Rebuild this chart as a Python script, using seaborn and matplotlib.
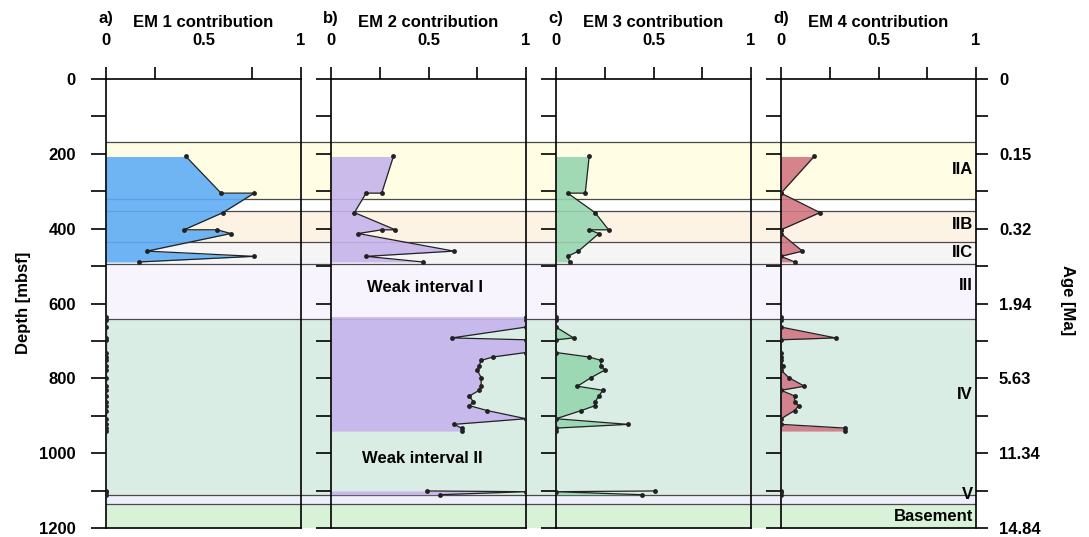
import matplotlib
matplotlib.use("Agg")
import matplotlib.pyplot as plt
import seaborn as sns
from matplotlib.ticker import MultipleLocator

# ---------------- data ----------------
# segment 1 (units II)
depth_s1 = [207, 305, 305, 357, 403, 403, 413, 460, 474, 489]
em1_s1 = [0.41, 0.59, 0.76, 0.60, 0.40, 0.57, 0.64, 0.21, 0.76, 0.17]
em2_s1 = [0.32, 0.26, 0.18, 0.12, 0.33, 0.26, 0.14, 0.63, 0.18, 0.47]
em3_s1 = [0.17, 0.15, 0.06, 0.20, 0.27, 0.17, 0.22, 0.115, 0.06, 0.07]
em4_s1 = [0.17, 0.0, 0.0, 0.20, 0.0, 0.0, 0.0, 0.11, 0.0, 0.07]

# segment 2 (unit IV)
depth_s2 = [635, 644, 663, 692, 697, 731, 743, 752, 766, 778, 798,
            821, 832, 847, 863, 873, 886, 908, 923, 933, 941]
em1_s2 = [0, 0, 0, 0, 0, 0, 0, 0, 0, 0, 0,
          0, 0, 0, 0, 0, 0, 0, 0, 0, 0]
em2_s2 = [1.0, 1.0, 1.0, 0.62, 1.0, 1.0, 0.83, 0.77, 0.76, 0.75, 0.77,
          0.77, 0.76, 0.71, 0.73, 0.71, 0.80, 1.0, 0.63, 0.67, 0.67]
em3_s2 = [0, 0, 0, 0.09, 0, 0, 0.17, 0.23, 0.23, 0.25, 0.18,
          0.11, 0.24, 0.22, 0.20, 0.20, 0.13, 0, 0.37, 0, 0]
em4_s2 = [0, 0, 0, 0.28, 0, 0, 0, 0, 0.01, 0, 0.04,
          0.12, 0, 0.07, 0.07, 0.09, 0.07, 0, 0, 0.33, 0.33]

# segment 3 (unit V)
depth_s3 = [1101, 1103, 1111]
em1_s3 = [0, 0, 0]
em2_s3 = [0.49, 1.0, 0.56]
em3_s3 = [0.51, 0, 0.44]
em4_s3 = [0, 0, 0]

panel_titles = ["EM 1 contribution", "EM 2 contribution",
                "EM 3 contribution", "EM 4 contribution"]
panel_letters = ["a)", "b)", "c)", "d)"]

# lithological units (depth intervals)
unit_tops = [168, 321, 354, 436, 495, 642, 1112, 1135]
unit_bottoms = [321, 354, 436, 495, 642, 1112, 1135, 1200]
unit_names = ["IIA", "IIB", "IIC", "III", "IV", "V", "Basement"]
unit_label_depths = [242, 390, 464, 553, 844, 1110, 1168]

age_depths = [0, 200, 400, 600, 800, 1000, 1200]
age_labels = ["0", "0.15", "0.32", "1.94", "5.63", "11.34", "14.84"]

# ---------------- style ----------------
band_colors = ["#FFFDE3", "#FFFFFF", "#FDF3E4", "#F5F5F5",
               "#F8F4FD", "#D9EDE5", "#EFEFFA", "#D8F2D8"]
fill_colors = ["#5FADF5", "#C6B4EC", "#97D6B0", "#D27783"]

sns.set_theme(style="white")
plt.rcParams["font.family"] = ["Liberation Sans", "DejaVu Sans"]
plt.rcParams["font.weight"] = "bold"
plt.rcParams["font.size"] = 12
plt.rcParams["text.color"] = "black"
plt.rcParams["axes.labelcolor"] = "black"
plt.rcParams["xtick.color"] = "black"
plt.rcParams["ytick.color"] = "black"

W, H = 1089, 537
fig = plt.figure(figsize=(W / 100, H / 100), dpi=100)
fig.patch.set_facecolor("white")

def fx(px):
    return px / W

bottom = 1 - 528 / H
height = 449 / H

# background bands spanning all panels
bg = fig.add_axes([fx(106), bottom, fx(870), height], zorder=0)
bg.set_xlim(0, 1)
bg.set_ylim(1200, 0)
bg.axis("off")
for t, b, c in zip(unit_tops, unit_bottoms, band_colors):
    bg.axhspan(t, b, color=c, lw=0)
for t in unit_tops:
    bg.axhline(t, color="#4a4a4a", lw=0.9)

segments_all = [
    [(depth_s1, em1_s1), (depth_s2, em1_s2), (depth_s3, em1_s3)],
    [(depth_s1, em2_s1), (depth_s2, em2_s2), (depth_s3, em2_s3)],
    [(depth_s1, em3_s1), (depth_s2, em3_s2), (depth_s3, em3_s3)],
    [(depth_s1, em4_s1), (depth_s2, em4_s2), (depth_s3, em4_s3)],
]

panel_x = [106, 331, 556, 781]
axes = []
for i in range(4):
    ax = fig.add_axes([fx(panel_x[i]), bottom, fx(195), height], zorder=1)
    ax.patch.set_alpha(0)
    for d, v in segments_all[i]:
        ax.fill_betweenx(d, 0, v, color=fill_colors[i], lw=0, alpha=0.9, zorder=2)
        sns.lineplot(x=v, y=d, ax=ax, sort=False, estimator=None, orient="y",
                     color="#222222", lw=0.9, marker="o", markersize=3.5,
                     markeredgewidth=0, zorder=3)
    ax.set_xlim(0, 1)
    ax.set_ylim(1200, 0)
    ax.set_xlabel("")
    ax.set_ylabel("")
    for s in ax.spines.values():
        s.set_visible(True)
        s.set_color("black")
        s.set_linewidth(1.2)
    # x ticks on top
    ax.xaxis.set_ticks_position("top")
    ax.set_xticks([0, 0.5, 1])
    ax.set_xticklabels(["0", "0.5", "1"])
    ax.set_xticks([0.25, 0.75], minor=True)
    ax.tick_params(axis="x", which="both", top=True, bottom=False,
                   labeltop=True, labelbottom=False, length=8.6, width=1.2,
                   color="black", direction="out", pad=14, labelsize=12)
    if i == 0:
        ax.xaxis.get_major_ticks()[1].tick2line.set_visible(False)
    # y ticks on left
    ax.yaxis.set_major_locator(MultipleLocator(200))
    ax.yaxis.set_minor_locator(MultipleLocator(100))
    ax.tick_params(axis="y", which="both", left=True, right=False,
                   length=10.8, width=1.2, color="black", direction="out",
                   labelleft=(i == 0), pad=10.8, labelsize=12)
    for lab in ax.get_xticklabels() + ax.get_yticklabels():
        lab.set_fontweight("bold")
    ax.text(0.5, 1 + 52.5 / 449, panel_titles[i], transform=ax.transAxes,
            ha="center", va="baseline", fontsize=12, fontweight="bold")
    ax.text(0.0, 1 + 56.5 / 449, panel_letters[i], transform=ax.transAxes,
            ha="center", va="baseline", fontsize=12, fontweight="bold")
    axes.append(ax)

# interval annotations in panel b
axes[1].text(0.48, 556, "Weak interval I", transform=axes[1].get_yaxis_transform(),
             ha="center", va="center", fontsize=12, fontweight="bold")
axes[1].text(0.47, 1015, "Weak interval II", transform=axes[1].get_yaxis_transform(),
             ha="center", va="center", fontsize=12, fontweight="bold")

# unit labels in panel d
for name, d in zip(unit_names, unit_label_depths):
    axes[3].text(0.985, d, name, transform=axes[3].get_yaxis_transform(),
                 ha="right", va="center", fontsize=12, fontweight="bold")

# age axis on right
ax2 = axes[3].twinx()
ax2.set_ylim(1200, 0)
ax2.set_yticks(age_depths)
ax2.set_yticklabels(age_labels)
ax2.yaxis.set_minor_locator(MultipleLocator(100))
ax2.tick_params(axis="y", which="both", right=True, left=False, length=8.5,
                width=1.2, color="black", direction="out", pad=8, labelsize=12)
for lab in ax2.get_yticklabels():
    lab.set_fontweight("bold")
for s in ax2.spines.values():
    s.set_visible(False)
ax2.grid(False)

fig.text(fx(24), 1 - 303 / H, "Depth [mbsf]", rotation=90, ha="center",
         va="center", fontsize=12, fontweight="bold")
fig.text(fx(1068), 1 - 300 / H, "Age [Ma]", rotation=270, ha="center",
         va="center", fontsize=12, fontweight="bold")

fig.savefig("out.png", dpi=100)
